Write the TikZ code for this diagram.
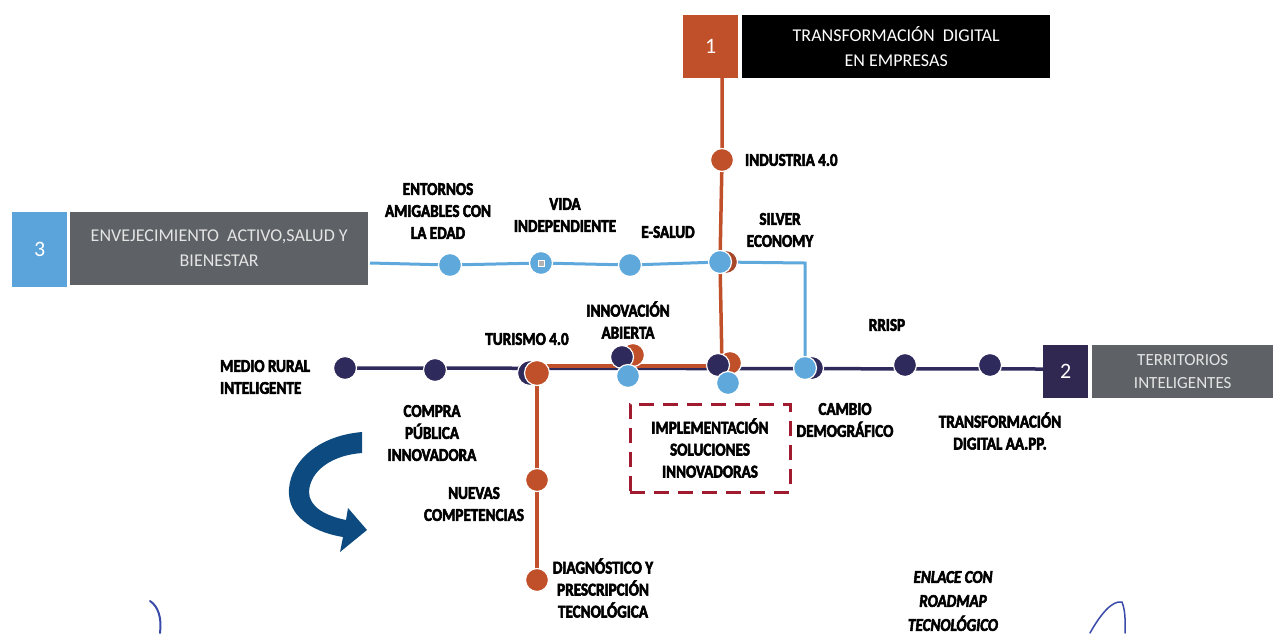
\documentclass[tikz,border=0pt]{standalone}
\usepackage{fontspec}
\setmainfont{Carlito}[BoldFeatures={FakeBold=3,FakeStretch=0.84},BoldItalicFeatures={FakeBold=3,FakeStretch=0.84}]
\usetikzlibrary{arrows.meta}
\definecolor{orng}{HTML}{C0502A}
\definecolor{dorng}{HTML}{A8482A}
\definecolor{navy}{HTML}{2F2A5C}
\definecolor{lblue}{HTML}{5FA8DC}
\definecolor{dgray}{HTML}{5E6266}
\definecolor{boxnavy}{HTML}{302850}
\definecolor{boxblue}{HTML}{5BA3DB}
\definecolor{arrowblue}{HTML}{0C4A7F}
\definecolor{dashred}{HTML}{A01A30}
\definecolor{boxtext}{HTML}{E4E4E4}
\definecolor{sign}{HTML}{3A4AA8}
\begin{document}
\begin{tikzpicture}[x=1pt,y=-1pt,
  lbl/.style={font=\fontsize{18}{22}\selectfont\bfseries, align=center, inner sep=0pt},
  boxtxt/.style={font=\fontsize{18}{25}\selectfont, align=center, inner sep=0pt, anchor=north west},
  numbox/.style={font=\fontsize{22}{24}\selectfont, text=white, inner sep=0pt, anchor=north west},
  dot/.style={circle, minimum size=23pt, inner sep=0pt, draw=white, line width=1.2pt},
  bigdot/.style={circle, minimum size=25pt, inner sep=0pt, draw=white, line width=1.2pt},
  bline/.style={lblue, line width=3pt},
  nline/.style={navy, line width=3.5pt},
  oline/.style={orng, line width=3.5pt}]
\useasboundingbox (0,0) rectangle (1273,633);

% coordinates
\coordinate (t1) at (722,78);
\coordinate (ind) at (722,160);
\coordinate (silv) at (720,262);
\coordinate (bstart) at (370,263);
\coordinate (ent) at (450,265);
\coordinate (vida) at (541,263);
\coordinate (esal) at (630,265);
\coordinate (bcorner) at (805,263);
\coordinate (camb) at (805,368);
\coordinate (mr) at (345,368);
\coordinate (comp) at (435,370);
\coordinate (tur) at (537,373);
\coordinate (ia) at (622,357);
\coordinate (im) at (722,365);
\coordinate (oh1) at (537,366);
\coordinate (oh2) at (722,366);
\coordinate (rris) at (905,365);
\coordinate (tdap) at (990,365);
\coordinate (b2) at (1043,369);
\coordinate (nc) at (537,480);
\coordinate (diag) at (537,580);

% boxes
\node[fill=orng, minimum width=55pt, minimum height=63pt, numbox] (n1) at (683,15) {1};
\node[fill=black, minimum width=308pt, minimum height=63pt, boxtxt, text=white] (t1box) at (742,15) {TRANSFORMACIÓN\ \ DIGITAL\\EN EMPRESAS};
\node[fill=boxblue, minimum width=55pt, minimum height=75pt, numbox] (n3) at (12,212) {3};
\node[fill=dgray, minimum width=298pt, minimum height=73pt, boxtxt, text=boxtext] (t3box) at (70,212) {ENVEJECIMIENTO\ \ ACTIVO,SALUD\ Y\\BIENESTAR};
\node[fill=boxnavy, minimum width=45pt, minimum height=53pt, numbox] (n2) at (1043,345) {2};
\node[fill=dgray, minimum width=181pt, minimum height=53pt, boxtxt, text=boxtext, font=\fontsize{17}{23}\selectfont] (t2box) at (1092,345) {TERRITORIOS\\INTELIGENTES};

% lines
\draw[bline] (bstart) -- (ent) -- (vida) -- (esal) -- (silv) -- (bcorner) -- (camb);
\draw[nline] (mr) -- (b2);
\draw[oline] (oh1) -- (oh2);
\draw[oline] (t1) -- (ind) -- (silv) -- (im);
\draw[oline] (tur) -- (nc) -- (diag);

% dots
\node[dot, fill=lblue] (dent) at (ent) {};
\node[dot, fill=lblue] (dvida) at (vida) {};
\node[fill=gray!60, draw=white, minimum size=6pt, inner sep=0pt] (dvsq) at (vida) {};
\node[dot, fill=lblue] (desal) at (esal) {};
\node[dot, fill=dorng] (dsilvb) at ([xshift=6pt]silv) {};
\node[dot, fill=lblue] (dsilv) at (silv) {};
\node[dot, fill=orng] (dind) at (ind) {};
\node[dot, fill=navy] (dmr) at (mr) {};
\node[dot, fill=navy] (dcomp) at (comp) {};
\node[dot, fill=navy] (drris) at (rris) {};
\node[dot, fill=navy] (dtdap) at (tdap) {};
\node[bigdot, fill=navy] (dturb) at ([xshift=-7pt]tur) {};
\node[bigdot, fill=orng] (dtur) at (tur) {};
\node[dot, fill=orng] (dnc) at (nc) {};
\node[dot, fill=orng] (ddiag) at (diag) {};
\node[dot, fill=orng] (diab) at ([xshift=11pt,yshift=2pt]ia) {};
\node[dot, fill=navy] (dia) at (ia) {};
\node[dot, fill=lblue] (dia2) at ([xshift=6pt,yshift=-19pt]ia) {};
\node[dot, fill=orng] (dimb) at ([xshift=8pt,yshift=2pt]im) {};
\node[dot, fill=navy] (dim) at ([xshift=-4pt]im) {};
\node[dot, fill=lblue] (dim2) at ([xshift=6pt,yshift=-18pt]im) {};
\node[dot, fill=navy] (dcambb) at ([xshift=7pt]camb) {};
\node[dot, fill=lblue] (dcamb) at (camb) {};

% dashed box
\node[draw=dashred, line width=3pt, dash pattern=on 15pt off 9pt, minimum width=160pt, minimum height=88pt, lbl] (impbox) at (710,448) {IMPLEMENTACIÓN\\SOLUCIONES\\INNOVADORAS};

% labels
\node[lbl, anchor=west] (lind) at (745,160) {INDUSTRIA 4.0};
\node[lbl] (lsilv) at (780,230) {SILVER\\ECONOMY};
\node[lbl] (lesal) at (668,232) {E-SALUD};
\node[lbl] (lvida) at (565,215) {VIDA\\INDEPENDIENTE};
\node[lbl] (lent) at (438,211) {ENTORNOS\\AMIGABLES CON\\LA EDAD};
\node[lbl] (lia) at (628,320) {INNOVACIÓN\\ABIERTA};
\node[lbl] (ltur) at (527,339) {TURISMO 4.0};
\node[lbl, anchor=west, align=left] (lmr) at (220,377) {MEDIO RURAL\\INTELIGENTE};
\node[lbl] (lcomp) at (432,433) {COMPRA\\PÚBLICA\\INNOVADORA};
\node[lbl] (lnc) at (474,504) {NUEVAS\\COMPETENCIAS};
\node[lbl] (ldiag) at (603,588) {DIAGNÓSTICO Y\\PRESCRIPCIÓN\\TECNOLÓGICA};
\node[lbl] (lcamb) at (845,420) {CAMBIO\\DEMOGRÁFICO};
\node[lbl] (lrris) at (887,325) {RRISP};
\node[lbl] (ltdap) at (1000,431) {TRANSFORMACIÓN\\DIGITAL AA.PP.};
\node[lbl, font=\fontsize{18}{24}\selectfont\bfseries\itshape] (lenl) at (953,601) {ENLACE CON\\ROADMAP\\TECNOLÓGICO};

% curved arrow
\fill[arrowblue] (362,432) .. controls (315,436) and (287,465) .. (289,495)
  .. controls (291,520) and (318,533) .. (343,537)
  -- (340,552) -- (367,530) -- (348,508) -- (346,520)
  .. controls (326,516) and (309,507) .. (309,492)
  .. controls (310,470) and (333,455) .. (362,453) -- cycle;

% signature strokes
\draw[sign, line width=2pt, line cap=round] (150,601) .. controls (158,606) and (162,618) .. (160,633);
\draw[sign, line width=1.5pt, line cap=round] (1090,633) .. controls (1100,615) and (1112,600) .. (1122,602) .. controls (1126,612) and (1125,625) .. (1125,633);
\end{tikzpicture}
\end{document}
